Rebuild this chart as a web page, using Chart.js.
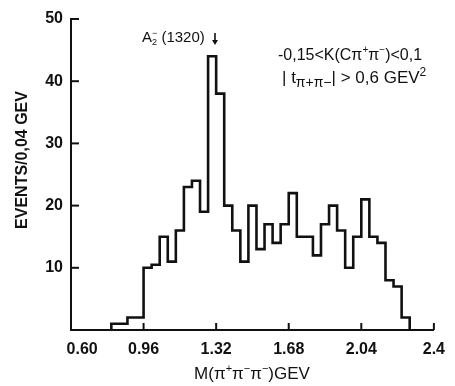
<!DOCTYPE html>
<html lang="en">
<head>
<meta charset="UTF-8">
<title>M(π+π−π−) – A2(1320)</title>
<script src="https://cdn.jsdelivr.net/npm/chart.js"></script>
<style>
html,body{margin:0;padding:0;width:455px;height:386px;overflow:hidden;background:#fff}
#c{display:block}
</style>
</head>
<body>
<canvas id="c" width="455" height="386"></canvas>
<script>
// bin edges (GeV), 0.04 GeV bins
const binEdges=[0.80,0.84,0.88,0.92,0.96,1.00,1.04,1.08,1.12,1.16,1.20,1.24,1.28,1.32,1.36,1.40,1.44,1.48,1.52,1.56,
                1.60,1.64,1.68,1.72,1.76,1.80,1.84,1.88,1.92,1.96,2.00,2.04,2.08,2.12,2.16,2.20,2.24,2.28];
// events per bin
const counts=[1,1,2,2,10,10.5,15,11,16,23,24,19,44,38,20,16,11,20,13,17,
              14,17,22,15,15,12,17,20,16,10,15,21,15,14,8,7,2];
const xTicks=[0.60,0.96,1.32,1.68,2.04,2.4];
const xTickLabels=['0.60','0.96','1.32','1.68','2.04','2.4'];
const yTicks=[10,20,30,40,50];
const yTickLabels=['10','20','30','40','50'];

const FONT="'Liberation Sans Narrow','Liberation Sans',Arial,sans-serif";

// step outline: start at baseline, one point per bin right edge, back to baseline
const pts=[{x:binEdges[0],y:0}];
counts.forEach((c,i)=>pts.push({x:binEdges[i+1],y:c}));
pts.push({x:binEdges[binEdges.length-1],y:0});

// text with sub/superscripts: parts = [text, mode, noAdvance, smallScale]
function rich(ctx,x,y,parts,size,align,weight){
  const f=(p)=>(weight||'normal')+' '+(p[1]?Math.round(size*(p[3]||0.62)):size)+'px '+FONT;
  let w=0,pend=0;
  parts.forEach(p=>{ctx.font=f(p);const pw=ctx.measureText(p[0]).width;
    if(p[2]){pend=Math.max(pend,pw);}else{w+=Math.max(pw,pend);pend=0;}});
  let cx=align==='center'?x-w/2:x;pend=0;
  ctx.textBaseline='alphabetic';ctx.textAlign='left';
  parts.forEach(p=>{ctx.font=f(p);const pw=ctx.measureText(p[0]).width;
    const dy=p[1]===1?-size*0.42:p[1]===-1?size*0.22:0;
    ctx.fillText(p[0],cx,y+dy);
    if(p[2]){pend=Math.max(pend,pw);}else{cx+=Math.max(pw,pend);pend=0;}});
}

const decor={
  id:'decor',
  afterDraw(chart){
    const ctx=chart.ctx,xs=chart.scales.x,ys=chart.scales.y,a=chart.chartArea;
    ctx.save();
    ctx.strokeStyle='#111';ctx.fillStyle='#111';ctx.lineWidth=2;
    // inward tick marks
    xTicks.forEach(v=>{const px=xs.getPixelForValue(v);ctx.beginPath();ctx.moveTo(px,a.bottom);ctx.lineTo(px,a.bottom-7);ctx.stroke();});
    yTicks.forEach(v=>{const py=ys.getPixelForValue(v);ctx.beginPath();ctx.moveTo(a.left,py);ctx.lineTo(a.left+8,py);ctx.stroke();});
    // y title
    ctx.save();ctx.translate(23,160);ctx.rotate(-Math.PI/2);
    ctx.font='bold 16px '+FONT;ctx.textAlign='center';ctx.textBaseline='middle';
    ctx.fillText('EVENTS/0,04 GEV',0,0);ctx.restore();
    // x title
    rich(ctx,252,379,[['M(π',0],['+',1],['π',0],['−',1],['π',0],['−',1],[')GEV',0]],17,'center');
    // A2 label and arrow
    rich(ctx,142,42,[['A',0],['2',-1,true],['−',1],[' (1320)',0]],15,'left');
    ctx.lineWidth=1.6;ctx.beginPath();ctx.moveTo(215,33);ctx.lineTo(215,43);ctx.stroke();
    ctx.beginPath();ctx.moveTo(212,40);ctx.lineTo(215,45);ctx.lineTo(218,40);ctx.closePath();ctx.fill();
    // cuts
    rich(ctx,278,60,[['-0,15<K(Cπ',0],['+',1],['π',0],['−',1],[')<0,1',0]],16,'left');
    rich(ctx,282,83,[['| t',0],['π+π−',-1,false,0.8],['| > 0,6 GEV',0],['2',1,false,0.7]],17,'left');
    ctx.restore();
  }
};

new Chart(document.getElementById('c'),{
  type:'line',
  data:{datasets:[{data:pts,stepped:'after',borderColor:'#111',borderWidth:2.6,pointRadius:0,fill:false,borderJoinStyle:'miter'}]},
  options:{
    responsive:false,animation:false,devicePixelRatio:1,
    layout:{padding:{top:19,right:16,left:0,bottom:0}},
    plugins:{legend:{display:false},tooltip:{enabled:false}},
    scales:{
      x:{type:'linear',min:0.6,max:2.4,
        afterBuildTicks:s=>{s.ticks=xTicks.map(v=>({value:v}));},
        afterFit:s=>{s.height=56;},
        grid:{display:false,drawTicks:false},
        border:{display:true,color:'#111',width:2},
        ticks:{autoSkip:false,maxRotation:0,padding:10,color:'#111',
          font:{family:FONT,size:16,weight:'bold'},
          callback:(v,i)=>i===0?'     '+xTickLabels[i]:xTickLabels[i]}},
      y:{min:0,max:50,
        afterBuildTicks:s=>{s.ticks=yTicks.map(v=>({value:v}));},
        afterFit:s=>{s.width=71;},
        grid:{display:false,drawTicks:false},
        border:{display:true,color:'#111',width:2},
        ticks:{padding:8,color:'#111',font:{family:FONT,size:16,weight:'bold'},
          callback:(v,i)=>yTickLabels[i]}}
    }
  },
  plugins:[decor]
});
</script>
</body>
</html>
